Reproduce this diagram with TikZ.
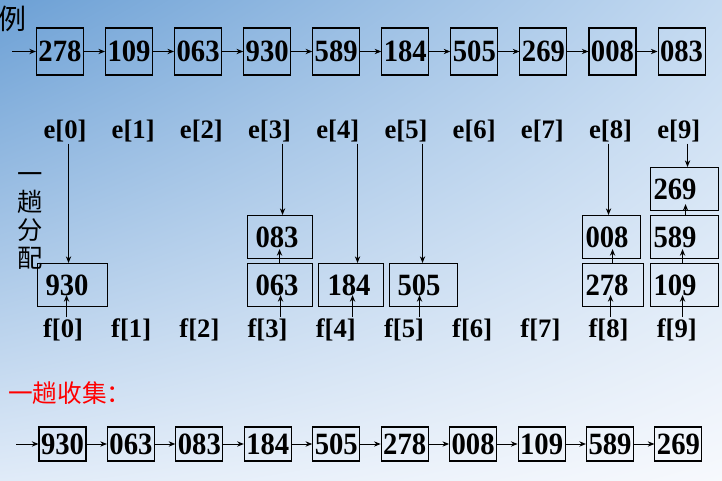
\documentclass[tikz,border=0pt]{standalone}
\usepackage{fontspec}
\setmainfont{Liberation Serif}
\newfontfamily\cjk{Noto Sans CJK SC}
\usetikzlibrary{arrows.meta,calc,shadings}
\definecolor{bgA}{RGB}{108,160,213}
\definecolor{bgB}{RGB}{196,218,241}
\definecolor{bgC}{RGB}{224,235,248}
\definecolor{bgD}{RGB}{247,249,253}
\newcommand\vst[1]{\scalebox{1}[1.08]{#1}}
\begin{document}
\begin{tikzpicture}[x=0.75pt,y=-0.75pt,
 num/.style={font=\fontsize{21.5}{24}\selectfont\bfseries},
 topbox/.style={draw, line width=0.8pt, minimum width=35.25pt, minimum height=35.25pt, inner sep=0pt, num},
 botbox/.style={draw, line width=0.8pt, minimum width=35.25pt, minimum height=25.5pt, inner sep=0pt, num},
 midbox/.style={draw, line width=0.8pt, minimum height=32.25pt, inner ysep=0pt, align=left, anchor=north west, num},
 lbl/.style={font=\fontsize{20}{22}\selectfont\bfseries, inner sep=1pt},
 arr/.style={-{Stealth[length=5pt,width=4pt]}, line width=0.7pt}]
\useasboundingbox (0,0) rectangle (722,481);
\shade[upper left=bgA, upper right=bgB, lower left=bgC, lower right=bgD] (0,0) rectangle (722,481);

% title
\node[font=\cjk\fontsize{21}{21}\selectfont, inner sep=0pt] (li) at (12,19) {例};

% top row
\foreach \v [count=\i] in {278,109,063,930,589,184,505,269,008,083}
  \node[topbox] (t\i) at ({60+69.06*(\i-1)},51.5) {\vst{\v}};
\coordinate (ts) at (12,51.5);
\draw[arr] (ts) -- (t1.west);
\foreach \i [evaluate=\i as \j using int(\i+1)] in {1,...,9}
  \draw[arr] (t\i.east) -- (t\j.west);

% e and f labels
\foreach \i in {0,...,9} {
  \node[lbl] (e\i) at ({65+68.2*\i},131) {e[\i]};
  \node[lbl] (f\i) at ({63+68.2*\i},330) {f[\i]};
}

% side text
\node[font=\cjk\fontsize{19}{21}\selectfont, align=center, inner sep=0pt] (fp) at (30,221) {一\\趟\\分\\配};

% middle boxes
\node[midbox, inner xsep=6pt, text width=40.5pt] (b930) at (37,263) {\vst{930}};
\node[midbox, inner xsep=6pt, text width=36.75pt] (b083) at (247,215) {\vst{083}};
\node[midbox, inner xsep=6pt, text width=36.75pt] (b063) at (247,263) {\vst{063}};
\node[midbox, inner xsep=6.75pt, text width=35.25pt] (b184) at (318,263) {\vst{184}};
\node[midbox, inner xsep=6pt, text width=39pt] (b505) at (389,263) {\vst{505}};
\node[midbox, inner xsep=2.25pt, text width=39pt] (b008) at (582,215) {\vst{008}};
\node[midbox, inner xsep=2.25pt, text width=41.25pt] (b278) at (582,263) {\vst{278}};
\node[midbox, inner xsep=2.25pt, text width=46.5pt] (b269) at (650,167) {\vst{269}};
\node[midbox, inner xsep=2.25pt, text width=46.5pt] (b589) at (650,215) {\vst{589}};
\node[midbox, inner xsep=2.25pt, text width=46.5pt] (b109) at (650,263) {\vst{109}};

% down arrows from e
\coordinate (a0) at ($(b930.north)+(-4,0)$);
\coordinate (a3) at ($(b083.north)+(2.5,0)$);
\coordinate (a4) at ($(b184.north)+(6.5,0)$);
\coordinate (a5) at ($(b505.north)+(-1,0)$);
\coordinate (a8) at ($(b008.north)+(-3,0)$);
\coordinate (a9) at ($(b269.north)+(3,0)$);
\foreach \k in {0,3,4,5,8,9}
  \draw[arr] (e\k.south -| a\k) -- (a\k);

% up arrows from f
\coordinate (u0) at ($(b930.south)+(-6,-12)$);
\coordinate (u3) at ($(b063.south)+(0.5,-12)$);
\coordinate (u4) at ($(b184.south)+(1.5,-12)$);
\coordinate (u5) at ($(b505.south)+(-4,-12)$);
\coordinate (u8) at ($(b278.south)+(-2.5,-12)$);
\coordinate (u9) at ($(b109.south)+(-2,-12)$);
\foreach \k in {0,3,4,5,8,9}
  \draw[arr] (f\k.north -| u\k) -- (u\k);

% stacked links
\coordinate (s3) at ($(b083.south)+(-0.5,-10)$);
\draw[arr] (b063.north -| s3) -- (s3);
\coordinate (s8) at ($(b008.south)+(1,-10)$);
\draw[arr] (b278.north -| s8) -- (s8);
\coordinate (s9) at ($(b589.south)+(-2,-10)$);
\draw[arr] (b109.north -| s9) -- (s9);
\coordinate (s10) at ($(b269.south)+(1,-7)$);
\draw[arr] (b589.north -| s10) -- (s10);

% collection title
\node[font=\cjk\fontsize{18.5}{20}\selectfont, text=red, anchor=west, inner sep=0pt] (col) at (8,393) {一趟收集：};

% bottom row
\foreach \v [count=\i] in {930,063,083,184,505,278,008,109,589,269}
  \node[botbox] (c\i) at ({62.5+68.44*(\i-1)},444) {\vst{\v}};
\coordinate (cs) at (16,444);
\draw[arr] (cs) -- (c1.west);
\foreach \i [evaluate=\i as \j using int(\i+1)] in {1,...,9}
  \draw[arr] (c\i.east) -- (c\j.west);
\end{tikzpicture}
\end{document}
